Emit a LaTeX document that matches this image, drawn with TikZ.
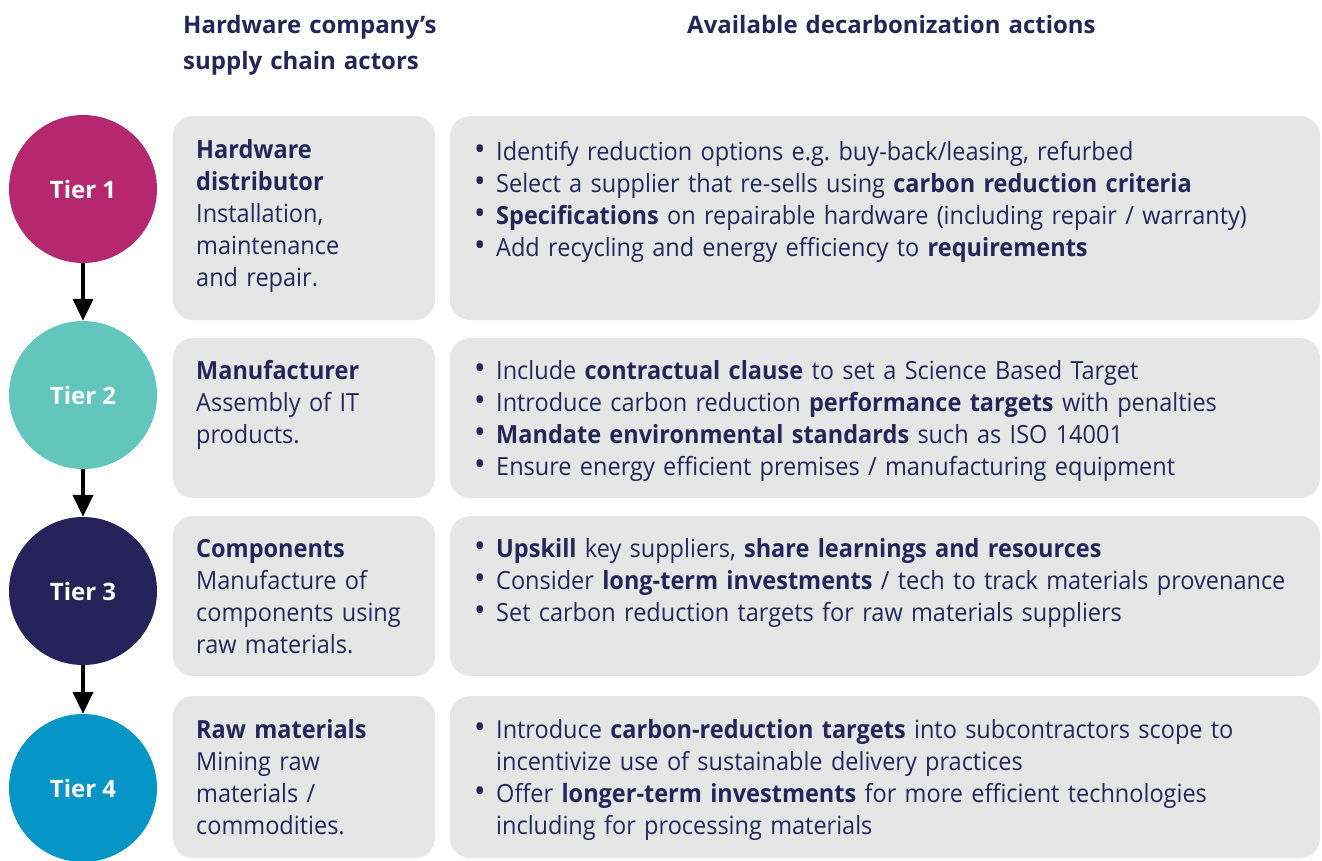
\documentclass[tikz,border=0pt]{standalone}
\usepackage{fontspec}
\setmainfont{Open Sans}
\newfontfamily\bodyfont[FakeStretch=0.94]{Open Sans}
\usetikzlibrary{arrows.meta}
\definecolor{navy}{HTML}{25255A}
\definecolor{boxgray}{HTML}{E6E6E6}
\definecolor{tierone}{HTML}{B52870}
\definecolor{tiertwo}{HTML}{63C6BC}
\definecolor{tierthree}{HTML}{27235A}
\definecolor{tierfour}{HTML}{0596C7}
\newcommand{\bl}[1]{\makebox[22pt][l]{\raisebox{0pt}{\scalebox{1.3}{\textbullet}}}#1}
\newcommand{\ct}{\hspace*{22pt}}
\begin{document}
\frenchspacing
\hyphenpenalty=10000\relax
\begin{tikzpicture}[x=1pt,y=-1pt,
  box/.style={fill=boxgray, rounded corners=20pt, draw=none, inner sep=0pt},
  tier/.style={circle, inner sep=0pt, minimum size=148pt, text=white, font=\fontsize{24}{28}\selectfont\bfseries},
  txt/.style={anchor=base west, inner sep=0pt, align=left, text=navy, font=\bodyfont\fontsize{25}{32}\selectfont},
  head/.style={anchor=base west, inner sep=0pt, align=left, text=navy, font=\fontsize{24}{36}\selectfont\bfseries},
  arr/.style={line width=4pt, -{Triangle[length=22pt, width=20pt]}}
]
\useasboundingbox (0,0) rectangle (1322,860);

\node[head, text width=300pt] (h1) at (183,33) {Hardware company's\\supply chain actors};
\node[head, text width=500pt] (h2) at (687,33) {Available decarbonization actions};

% boxes
\node[box, minimum width=262pt, minimum height=204pt] (l1) at (304,218) {};
\node[box, minimum width=870pt, minimum height=204pt] (r1) at (885,218) {};
\node[box, minimum width=262pt, minimum height=160pt] (l2) at (304,418) {};
\node[box, minimum width=870pt, minimum height=160pt] (r2) at (885,418) {};
\node[box, minimum width=262pt, minimum height=160pt] (l3) at (304,596) {};
\node[box, minimum width=870pt, minimum height=160pt] (r3) at (885,596) {};
\node[box, minimum width=262pt, minimum height=162pt] (l4) at (304,777) {};
\node[box, minimum width=870pt, minimum height=162pt] (r4) at (885,777) {};

% circles
\node[tier, fill=tierone] (t1) at (83,189) {Tier 1};
\node[tier, fill=tiertwo] (t2) at (83,395) {Tier 2};
\node[tier, fill=tierthree] (t3) at (83,591) {Tier 3};
\node[tier, fill=tierfour] (t4) at (83,788) {Tier 4};

\draw[arr] (t1.south) -- (t2.north);
\draw[arr] (t2.south) -- (t3.north);
\draw[arr] (t3.south) -- (t4.north);

% left texts
\node[txt, text width=240pt] (lt1) at (196,158) {\textbf{Hardware}\\\textbf{distributor}\\Installation,\\maintenance\\and repair.};
\node[txt, text width=240pt] (lt2) at (196,379) {\textbf{Manufacturer}\\Assembly of IT\\products.};
\node[txt, text width=240pt] (lt3) at (196,557) {\textbf{Components}\\Manufacture of\\components using\\raw materials.};
\node[txt, text width=240pt] (lt4) at (196,738) {\textbf{Raw materials}\\Mining raw\\materials /\\commodities.};

% right texts
\node[txt, text width=860pt] (rt1) at (474,160) {\bl{Identify reduction options e.g. buy-back/leasing, refurbed}\\
\bl{Select a supplier that re-sells using \textbf{carbon reduction criteria}}\\
\bl{\textbf{Specifications} on repairable hardware (including repair / warranty)}\\
\bl{Add recycling and energy efficiency to \textbf{requirements}}};
\node[txt, text width=860pt] (rt2) at (474,379) {\bl{Include \textbf{contractual clause} to set a Science Based Target}\\
\bl{Introduce carbon reduction \textbf{performance targets} with penalties}\\
\bl{\textbf{Mandate environmental standards} such as ISO 14001}\\
\bl{Ensure energy efficient premises / manufacturing equipment}};
\node[txt, text width=860pt] (rt3) at (474,557) {\bl{\textbf{Upskill} key suppliers, \textbf{share learnings and resources}}\\
\bl{Consider \textbf{long-term investments} / tech to track materials provenance}\\
\bl{Set carbon reduction targets for raw materials suppliers}};
\node[txt, text width=860pt] (rt4) at (474,738) {\bl{Introduce \textbf{carbon-reduction targets} into subcontractors scope to}\\
\ct incentivize use of sustainable delivery practices\\
\bl{Offer \textbf{longer-term investments} for more efficient technologies}\\
\ct including for processing materials};
\end{tikzpicture}
\end{document}
